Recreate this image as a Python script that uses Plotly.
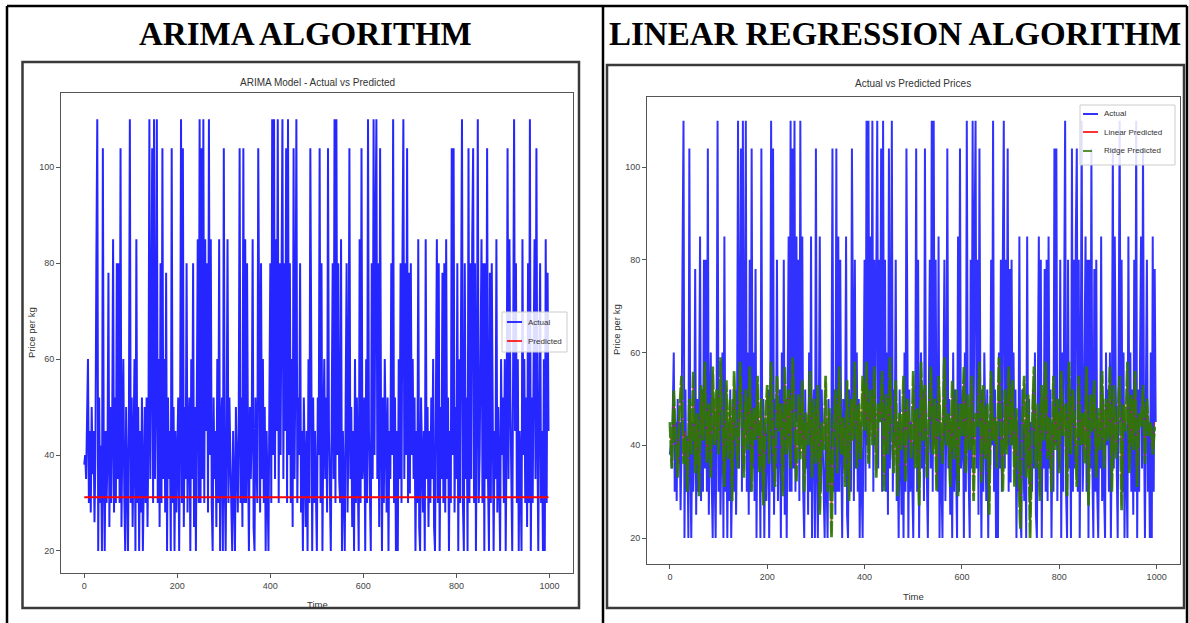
import plotly.graph_objects as go

W, H = 1189, 623

# ---------------- data ----------------
# actual price per kg, one value every 2 time steps (t = 0, 2, ..., 998)
actual_price = [
    38, 40, 35, 52, 60, 30, 45, 28, 50, 36, 45, 26, 40, 80, 110, 20, 52, 30, 42, 20, 104, 35, 20, 45, 30,
    40, 78, 25, 50, 30, 45, 85, 28, 52, 30, 80, 35, 80, 30, 104, 25, 45, 60, 32, 20, 50, 35, 20, 48, 110,
    30, 52, 25, 45, 60, 20, 85, 30, 50, 20, 45, 28, 52, 20, 40, 50, 30, 52, 25, 45, 110, 35, 60, 104, 30,
    110, 35, 52, 110, 30, 60, 25, 80, 30, 104, 35, 60, 28, 78, 20, 52, 35, 45, 20, 104, 30, 50, 20, 45, 28,
    40, 52, 20, 45, 110, 30, 104, 25, 50, 35, 80, 28, 45, 52, 20, 60, 35, 80, 25, 50, 20, 45, 85, 30, 110,
    30, 104, 35, 110, 30, 85, 45, 80, 28, 110, 40, 85, 30, 20, 52, 35, 45, 25, 60, 30, 85, 20, 45, 52, 20,
    104, 35, 20, 45, 85, 30, 52, 40, 25, 20, 45, 30, 20, 50, 35, 28, 45, 104, 30, 52, 25, 104, 30, 85, 30,
    80, 40, 20, 50, 35, 45, 85, 25, 20, 52, 40, 30, 104, 45, 28, 80, 35, 60, 30, 50, 20, 45, 35, 20, 52,
    80, 30, 110, 40, 110, 35, 85, 45, 110, 30, 80, 40, 85, 110, 35, 80, 45, 104, 30, 110, 40, 80, 30, 60, 25,
    104, 35, 60, 110, 30, 52, 40, 80, 28, 45, 20, 52, 35, 25, 45, 20, 60, 30, 104, 40, 20, 52, 30, 45, 25,
    20, 52, 40, 104, 30, 80, 20, 45, 60, 35, 52, 28, 104, 45, 30, 20, 50, 80, 35, 110, 30, 110, 40, 80, 35,
    30, 85, 20, 45, 35, 20, 52, 80, 28, 45, 104, 35, 50, 25, 45, 20, 60, 30, 52, 35, 20, 85, 30, 104, 35,
    40, 52, 20, 60, 30, 110, 45, 30, 20, 80, 35, 110, 40, 85, 110, 35, 80, 25, 104, 45, 20, 52, 30, 60, 40,
    28, 52, 20, 45, 35, 80, 40, 110, 30, 52, 20, 45, 20, 60, 35, 80, 30, 80, 110, 35, 80, 40, 104, 30, 78,
    32, 80, 40, 60, 35, 52, 20, 45, 30, 85, 25, 20, 52, 40, 28, 45, 20, 85, 35, 50, 25, 45, 30, 52, 35,
    60, 25, 20, 45, 85, 30, 80, 20, 50, 35, 78, 30, 80, 28, 85, 35, 52, 20, 45, 30, 104, 40, 104, 28, 50,
    35, 80, 20, 60, 30, 80, 110, 30, 20, 80, 35, 52, 20, 104, 30, 80, 35, 85, 104, 30, 80, 20, 52, 110, 30,
    40, 60, 85, 30, 80, 20, 80, 35, 104, 35, 20, 78, 30, 80, 30, 20, 45, 35, 85, 28, 50, 30, 20, 60, 40,
    52, 30, 60, 20, 45, 104, 35, 85, 52, 28, 20, 60, 110, 45, 80, 30, 60, 20, 45, 35, 20, 85, 40, 60, 30,
    52, 25, 80, 30, 110, 20, 52, 30, 60, 85, 35, 104, 45, 20, 52, 80, 30, 45, 20, 60, 20, 85, 30, 78, 45,
]

# ARIMA forecast: flat level
arima_forecast_level = 31.2

# linear / ridge regression predictions, one value every 4 time steps
linear_predicted = [
    44, 36, 51, 41, 34, 47, 54, 37, 43, 31, 49, 39, 55, 35, 46, 30, 52, 42, 57, 37, 48, 34, 56, 41, 51,
    39, 58, 43, 32, 53, 38, 49, 29, 55, 43, 36, 57, 45, 34, 51, 40, 56, 31, 47, 42, 54, 35, 49, 28, 46,
    52, 37, 57, 41, 32, 54, 44, 48, 30, 56, 39, 51, 36, 58, 43, 33, 50, 38, 53, 31, 46, 41, 55, 34, 49,
    37, 52, 26, 44, 40, 54, 31, 47, 21, 43, 51, 35, 56, 39, 45, 32, 53, 29, 49, 42, 57, 36, 48, 38, 54,
    44, 57, 37, 51, 41, 56, 34, 48, 46, 55, 31, 50, 39, 58, 43, 35, 53, 30, 46, 40, 54, 33, 49, 45, 38,
    55, 36, 47, 28, 57, 42, 52, 34, 45, 56, 39, 49, 31, 54, 44, 37, 58, 41, 46, 32, 53, 38, 51, 30, 48,
    43, 56, 35, 50, 40, 54, 29, 46, 45, 57, 33, 52, 38, 48, 26, 55, 42, 45, 36, 58, 44, 31, 51, 39, 56,
    41, 53, 32, 47, 37, 23, 44, 54, 34, 50, 21, 42, 56, 36, 48, 29, 52, 42, 57, 38, 45, 31, 54, 40, 49,
    35, 55, 43, 48, 30, 57, 39, 51, 45, 32, 54, 41, 46, 37, 56, 28, 50, 44, 53, 34, 47, 40, 55, 36, 49,
    42, 56, 31, 52, 38, 45, 54, 27, 48, 44, 57, 35, 50, 40, 55, 32, 46, 45, 52, 37, 49, 43, 44, 39, 45,
]
ridge_predicted = [
    45, 35, 52, 40, 33, 48, 55, 36, 42, 30, 50, 38, 56, 34, 47, 29, 53, 41, 58, 36, 49, 33, 57, 40, 52,
    38, 59, 44, 31, 54, 37, 50, 28, 56, 42, 35, 58, 46, 33, 52, 39, 57, 30, 48, 41, 55, 34, 50, 27, 45,
    53, 36, 58, 40, 31, 55, 43, 49, 29, 57, 38, 52, 35, 59, 44, 32, 51, 37, 54, 30, 47, 40, 56, 33, 50,
    36, 53, 25, 45, 39, 55, 30, 48, 20, 42, 52, 34, 57, 38, 46, 31, 54, 28, 50, 41, 58, 35, 49, 37, 55,
    43, 58, 36, 52, 40, 57, 33, 49, 45, 56, 30, 51, 38, 59, 42, 34, 54, 29, 47, 39, 55, 32, 50, 44, 37,
    56, 35, 48, 27, 58, 41, 53, 33, 46, 57, 38, 50, 30, 55, 43, 36, 59, 40, 47, 31, 54, 37, 52, 29, 49,
    42, 57, 34, 51, 39, 55, 28, 47, 44, 58, 32, 53, 37, 49, 25, 56, 41, 46, 35, 59, 43, 30, 52, 38, 57,
    40, 54, 31, 48, 36, 22, 45, 55, 33, 51, 20, 43, 57, 35, 49, 28, 53, 41, 58, 37, 46, 30, 55, 39, 50,
    34, 56, 42, 49, 29, 58, 38, 52, 44, 31, 55, 40, 47, 36, 57, 27, 51, 43, 54, 33, 48, 39, 56, 35, 50,
    41, 57, 30, 53, 37, 46, 55, 26, 49, 43, 58, 34, 51, 39, 56, 31, 47, 44, 53, 36, 50, 42, 45, 38, 44,
]

x_ticks = [0, 200, 400, 600, 800, 1000]
y_ticks = [20, 40, 60, 80, 100]

time_actual = [2 * i for i in range(len(actual_price))]
time_linear = [4 * i for i in range(len(linear_predicted))]
time_ridge = [4 * i for i in range(len(ridge_predicted))]
arima_predicted = [arima_forecast_level for _ in time_actual]


def px(x):
    return x / W


def py(y):
    return 1 - y / H


fig = go.Figure()

# ---- ARIMA chart ----
fig.add_trace(go.Scatter(x=time_actual, y=actual_price, mode="lines", name="Actual",
                         line=dict(color="#0000ff", width=2.0), opacity=0.85,
                         xaxis="x", yaxis="y", showlegend=False))
fig.add_trace(go.Scatter(x=time_actual, y=arima_predicted, mode="lines", name="Predicted",
                         line=dict(color="#ff0000", width=2.2),
                         xaxis="x", yaxis="y", showlegend=False))

# ---- Linear regression chart ----
fig.add_trace(go.Scatter(x=time_actual, y=actual_price, mode="lines", name="Actual",
                         line=dict(color="#0000ff", width=2.0), opacity=0.8,
                         xaxis="x2", yaxis="y2", showlegend=False))
fig.add_trace(go.Scatter(x=time_linear, y=linear_predicted, mode="lines", name="Linear Predicted",
                         line=dict(color="#c83000", width=1.2), opacity=0.8,
                         xaxis="x2", yaxis="y2", showlegend=False))
fig.add_trace(go.Scatter(x=time_ridge, y=ridge_predicted, mode="lines", name="Ridge Predicted",
                         line=dict(color="#2a7a00", width=2.8, dash="16px,2px"), opacity=0.88,
                         xaxis="x2", yaxis="y2", showlegend=False))

axis_common = dict(showline=True, mirror=True, linecolor="#555", linewidth=1,
                   ticks="outside", ticklen=4, tickcolor="#555", showgrid=False,
                   zeroline=False, tickfont=dict(family="Liberation Sans", size=9, color="#444"))

fig.update_layout(
    width=W, height=H,
    margin=dict(l=0, r=0, t=0, b=0),
    paper_bgcolor="white", plot_bgcolor="white",
    xaxis=dict(domain=[px(61), px(572.7)], anchor="y", range=[-50, 1050], tickvals=x_ticks, **axis_common),
    yaxis=dict(domain=[py(573), py(93)], anchor="x", range=[15.4, 115.5], tickvals=y_ticks, **axis_common),
    xaxis2=dict(domain=[px(647), px(1180)], anchor="y2", range=[-47, 1048], tickvals=x_ticks, **axis_common),
    yaxis2=dict(domain=[py(564), py(97)], anchor="x2", range=[14.4, 115.1], tickvals=y_ticks, **axis_common),
)

shapes = []
# outer table borders
for x in (7, 603, 1187):
    shapes.append(dict(type="line", xref="paper", yref="paper", x0=px(x), x1=px(x), y0=py(6), y1=py(623),
                       line=dict(color="black", width=2.5)))
shapes.append(dict(type="line", xref="paper", yref="paper", x0=px(7), x1=px(1187), y0=py(6), y1=py(6),
                   line=dict(color="black", width=2.5)))
# screenshot frames
shapes.append(dict(type="rect", xref="paper", yref="paper", x0=px(22.5), x1=px(579), y0=py(608), y1=py(62),
                   line=dict(color="#3a3a3a", width=2.5)))
shapes.append(dict(type="rect", xref="paper", yref="paper", x0=px(607), x1=px(1184), y0=py(608), y1=py(65),
                   line=dict(color="#3a3a3a", width=2.5)))
# legend boxes
shapes.append(dict(type="rect", xref="paper", yref="paper", x0=px(502), x1=px(567), y0=py(352), y1=py(312),
                   line=dict(color="#cccccc", width=1), fillcolor="rgba(255,255,255,0.85)"))
shapes.append(dict(type="rect", xref="paper", yref="paper", x0=px(1080), x1=px(1175), y0=py(165), y1=py(105),
                   line=dict(color="#cccccc", width=1), fillcolor="rgba(255,255,255,0.85)"))
# legend samples
legend_samples = [
    (507, 522, 322, "#0000ff", "solid"),
    (507, 522, 341, "#ff0000", "solid"),
    (1083, 1098, 114, "#0000ff", "solid"),
    (1083, 1098, 132, "#ff0000", "solid"),
    (1083, 1098, 151, "#2a7a00", "dash"),
]
for x0, x1, y, c, d in legend_samples:
    shapes.append(dict(type="line", xref="paper", yref="paper", x0=px(x0), x1=px(x1), y0=py(y), y1=py(y),
                       line=dict(color=c, width=1.6, dash=d)))
fig.update_layout(shapes=shapes)

ann = []
header_font = dict(family="Liberation Serif", size=33, color="black")
ann.append(dict(text="<b>ARIMA ALGORITHM</b>", x=px(305), y=py(34), xref="paper", yref="paper",
                showarrow=False, xanchor="center", yanchor="middle", font=header_font))
ann.append(dict(text="<b>LINEAR REGRESSION ALGORITHM</b>", x=px(895), y=py(34), xref="paper", yref="paper",
                showarrow=False, xanchor="center", yanchor="middle", font=header_font))
small = dict(family="Liberation Sans", size=10, color="#333")
label = dict(family="Liberation Sans", size=9.5, color="#333")
ann.append(dict(text="ARIMA Model - Actual vs Predicted", x=px(317), y=py(82), xref="paper", yref="paper",
                showarrow=False, xanchor="center", yanchor="middle", font=small))
ann.append(dict(text="Actual vs Predicted Prices", x=px(913), y=py(83), xref="paper", yref="paper",
                showarrow=False, xanchor="center", yanchor="middle", font=small))
ann.append(dict(text="Time", x=px(317), y=py(604), xref="paper", yref="paper",
                showarrow=False, xanchor="center", yanchor="middle", font=label))
ann.append(dict(text="Time", x=px(913), y=py(596), xref="paper", yref="paper",
                showarrow=False, xanchor="center", yanchor="middle", font=label))
ann.append(dict(text="Price per kg", x=px(31), y=py(333), xref="paper", yref="paper", textangle=-90,
                showarrow=False, xanchor="center", yanchor="middle", font=label))
ann.append(dict(text="Price per kg", x=px(617), y=py(330), xref="paper", yref="paper", textangle=-90,
                showarrow=False, xanchor="center", yanchor="middle", font=label))
legend_font = dict(family="Liberation Sans", size=8, color="#333")
for x, y, t in [(526, 322, "Actual"), (526, 341, "Predicted"),
                (1102, 114, "Actual"), (1102, 132, "Linear Predicted"), (1102, 151, "Ridge Predicted")]:
    ann.append(dict(text=t, x=px(x), y=py(y), xref="paper", yref="paper",
                    showarrow=False, xanchor="left", yanchor="middle", font=legend_font))
fig.update_layout(annotations=ann)

fig.write_html("out.html", config={"displayModeBar": False},
               post_script="document.body.style.margin='0';document.body.style.padding='0';")
